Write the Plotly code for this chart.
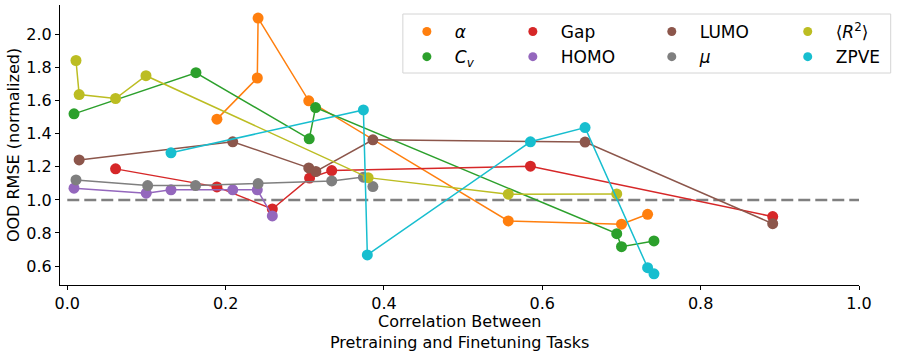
import plotly.graph_objects as go

# x = correlation between pretraining and finetuning tasks, y = normalized OOD RMSE
alpha_x = [0.189, 0.240, 0.241, 0.305, 0.557, 0.700, 0.733]
alpha_y = [1.489, 1.738, 2.101, 1.600, 0.873, 0.853, 0.913]
cv_x = [0.0085, 0.1625, 0.3056, 0.3136, 0.694, 0.700, 0.741]
cv_y = [1.521, 1.770, 1.370, 1.559, 0.796, 0.717, 0.752]
gap_x = [0.061, 0.189, 0.259, 0.306, 0.334, 0.585, 0.891]
gap_y = [1.188, 1.079, 0.945, 1.132, 1.178, 1.204, 0.899]
homo_x = [0.0085, 0.0997, 0.131, 0.209, 0.240, 0.259]
homo_y = [1.071, 1.041, 1.061, 1.061, 1.061, 0.903]
lumo_x = [0.015, 0.209, 0.305, 0.314, 0.386, 0.654, 0.891]
lumo_y = [1.242, 1.352, 1.194, 1.172, 1.364, 1.350, 0.856]
mu_x = [0.011, 0.1015, 0.162, 0.241, 0.334, 0.374, 0.386]
mu_y = [1.121, 1.087, 1.087, 1.099, 1.115, 1.138, 1.081]
r2_x = [0.011, 0.015, 0.061, 0.0994, 0.380, 0.557, 0.694]
r2_y = [1.844, 1.638, 1.614, 1.752, 1.135, 1.035, 1.036]
zpve_x = [0.131, 0.374, 0.379, 0.585, 0.654, 0.733, 0.741]
zpve_y = [1.285, 1.545, 0.667, 1.352, 1.438, 0.590, 0.553]

series = [
    ('<i>α</i>', alpha_x, alpha_y, '#ff7f0e', 'legend'),
    ('<i>C</i><sub><i>v</i></sub>', cv_x, cv_y, '#2ca02c', 'legend'),
    ('Gap', gap_x, gap_y, '#d62728', 'legend2'),
    ('HOMO', homo_x, homo_y, '#9467bd', 'legend2'),
    ('LUMO', lumo_x, lumo_y, '#8c564b', 'legend3'),
    ('<i>μ</i>', mu_x, mu_y, '#7f7f7f', 'legend3'),
    ('⟨<i>R</i><sup>2</sup>⟩', r2_x, r2_y, '#bcbd22', 'legend4'),
    ('ZPVE', zpve_x, zpve_y, '#17becf', 'legend4'),
]

FONT = 'DejaVu Sans'

fig = go.Figure()

# baseline
fig.add_trace(go.Scatter(
    x=[0, 1], y=[1, 1], mode='lines', showlegend=False, hoverinfo='skip',
    line=dict(color='#808080', width=2.5, dash='12px,5px'),
))

for name, xs, ys, color, leg in series:
    fig.add_trace(go.Scatter(
        x=xs, y=ys, mode='lines+markers', showlegend=False, name=name,
        line=dict(color=color, width=1.5),
        marker=dict(color=color, size=11),
    ))

# legend-only entries (marker only, like matplotlib)
for name, xs, ys, color, leg in series:
    fig.add_trace(go.Scatter(
        x=[None], y=[None], mode='markers', name=name, legend=leg,
        marker=dict(color=color, size=9),
    ))

plot_l, plot_r, plot_t, plot_b = 60, 859.3, 5, 285


def px_x(p):
    return (p - plot_l) / (plot_r - plot_l)


def px_y(p):
    return (plot_b - p) / (plot_b - plot_t)


leg_common = dict(
    bgcolor='rgba(0,0,0,0)', borderwidth=0, font=dict(family=FONT, size=17, color='black'),
    xanchor='left', yanchor='top', y=px_y(14), itemwidth=46, orientation='v',
)
col_px = [399, 505, 644, 780]

fig.update_layout(
    width=897, height=355,
    margin=dict(l=plot_l, r=897 - plot_r, t=plot_t, b=355 - plot_b, autoexpand=False),
    paper_bgcolor='white', plot_bgcolor='white',
    font=dict(family=FONT, size=16, color='black'),
    legend=dict(x=px_x(col_px[0]), **leg_common),
    legend2=dict(x=px_x(col_px[1]), **leg_common),
    legend3=dict(x=px_x(col_px[2]), **leg_common),
    legend4=dict(x=px_x(col_px[3]), **leg_common),
    xaxis=dict(
        range=[-0.0092, 1.0], tickvals=[0, 0.2, 0.4, 0.6, 0.8, 1.0],
        ticktext=['0.0', '0.2', '0.4', '0.6', '0.8', '1.0'],
        showgrid=False, zeroline=False, showline=True, linecolor='black', linewidth=1,
        ticks='outside', ticklen=4, tickwidth=1, tickcolor='black',
        tickfont=dict(size=16),
    ),
    yaxis=dict(
        range=[0.485, 2.18], tickvals=[0.6, 0.8, 1.0, 1.2, 1.4, 1.6, 1.8, 2.0],
        ticktext=['0.6', '0.8', '1.0', '1.2', '1.4', '1.6', '1.8', '2.0'],
        showgrid=False, zeroline=False, showline=True, linecolor='black', linewidth=1,
        ticks='outside', ticklen=4, tickwidth=1, tickcolor='black',
        tickfont=dict(size=16),
        title=dict(text='OOD RMSE (normalized)', font=dict(size=16), standoff=2),
    ),
    shapes=[dict(
        type='rect', xref='paper', yref='paper', layer='above',
        x0=px_x(403), x1=px_x(891), y0=px_y(73), y1=px_y(14),
        line=dict(color='#d4d4d4', width=1), fillcolor='rgba(255,255,255,0.8)',
    )],
    annotations=[dict(
        text='Correlation Between<br>Pretraining and Finetuning Tasks',
        xref='paper', yref='paper', x=0.5, y=px_y(331.5),
        xanchor='center', yanchor='middle', showarrow=False,
        font=dict(family=FONT, size=16, color='black'),
    )],
)

# drop the default body margin so the figure sits at the page corner
fig.write_html('out.html', config={'displayModeBar': False},
               post_script="document.body.style.margin='0';")
